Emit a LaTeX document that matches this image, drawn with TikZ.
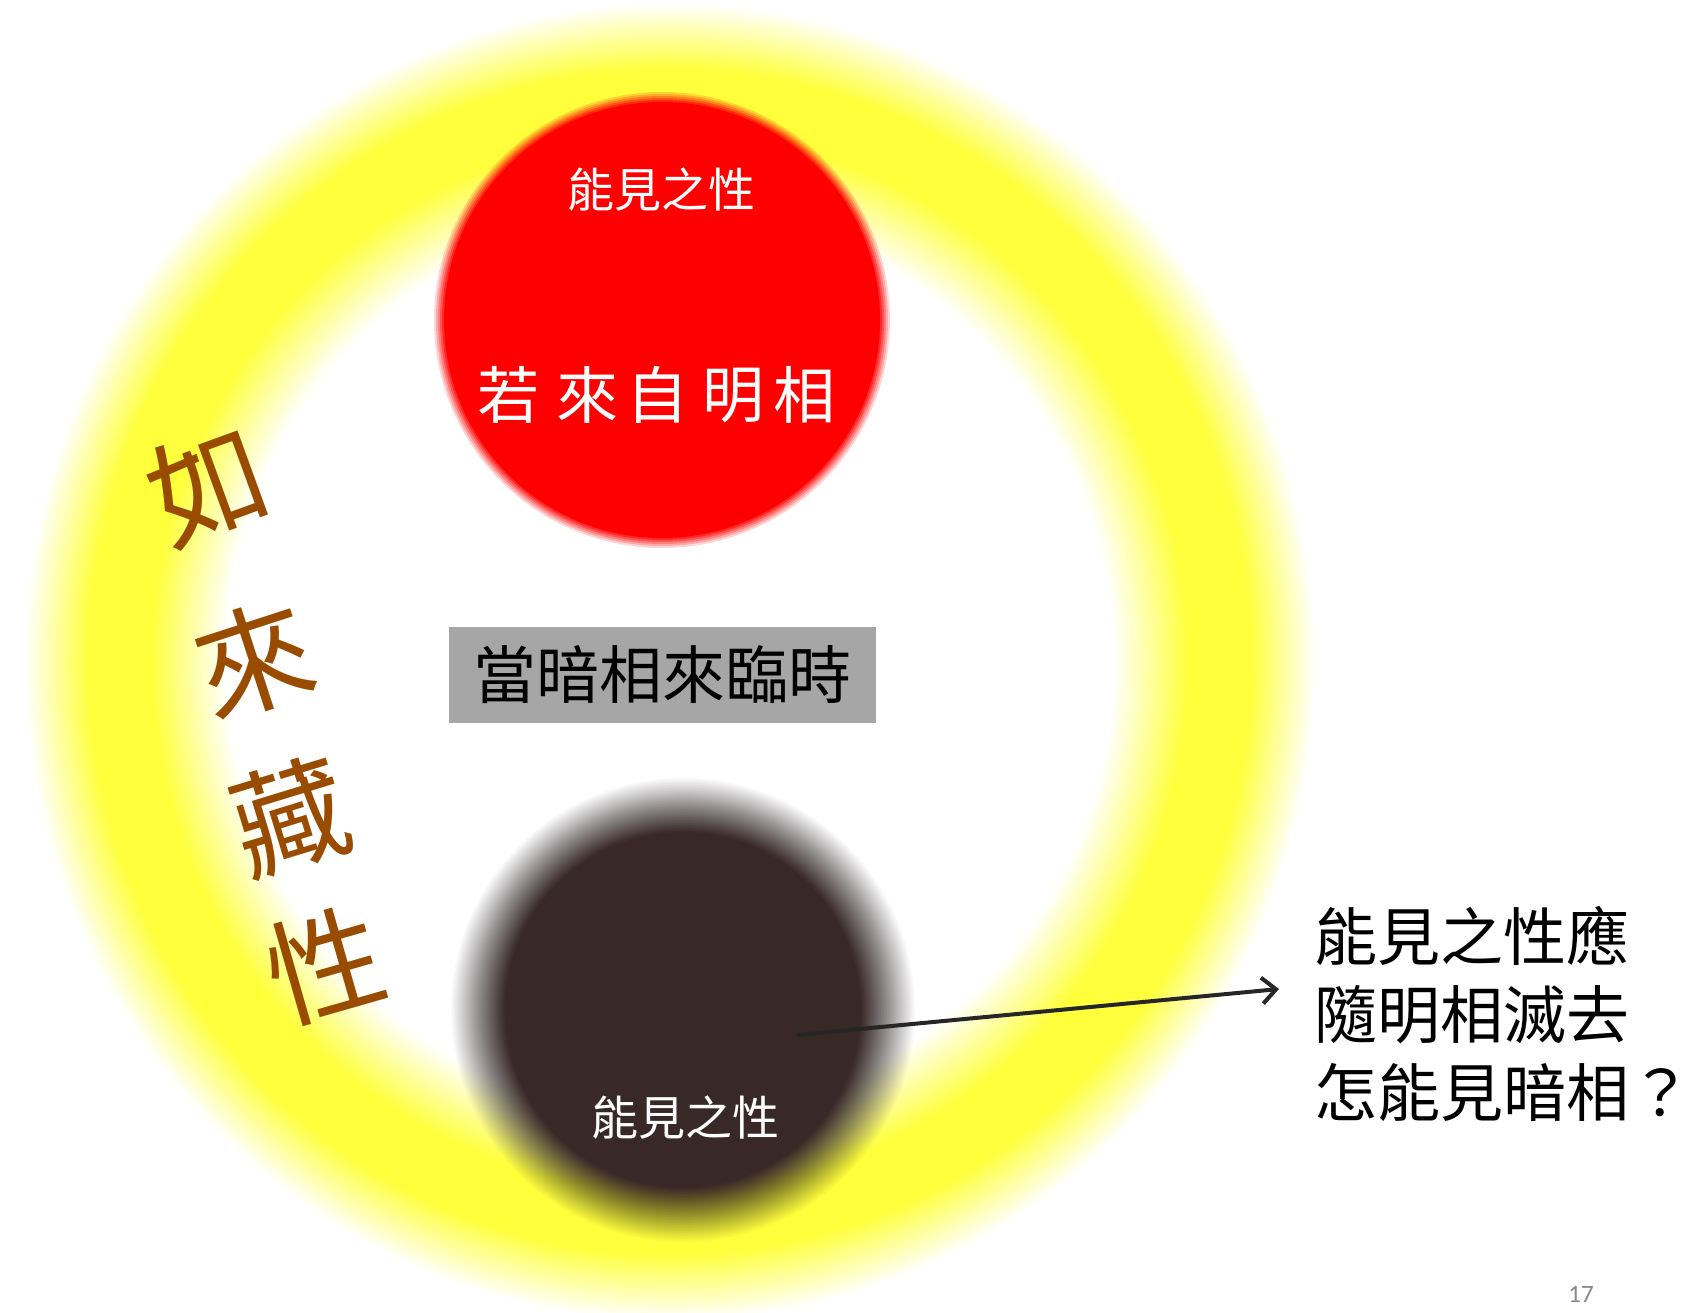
\documentclass[tikz,border=0pt]{standalone}
\usepackage{fontspec}
\newfontfamily\cjk{Noto Sans CJK TC}
\newfontfamily\numfont{Carlito}
\usetikzlibrary{arrows.meta}

\definecolor{ringyellow}{RGB}{255,255,60}
\definecolor{sunred}{RGB}{255,0,0}
\definecolor{darkdisc}{RGB}{56,40,40}
\definecolor{boxgray}{RGB}{166,166,166}
\definecolor{brownink}{RGB}{153,76,0}
\definecolor{arrowgray}{RGB}{38,38,38}
\definecolor{pagegray}{RGB}{137,137,137}

% soft disc: centre x, centre y, radius, half ramp, layers, colour
\newcommand{\softdisc}[6]{%
  \foreach \i in {1,...,#5}{%
    \pgfmathsetmacro\discop{1/(#5+1-\i)}%
    \pgfmathsetmacro\discr{#3+#4-(\i-1)*2*#4/#5}%
    \fill[#6, opacity=\discop] (#1,#2) circle[radius=\discr];
  }%
}

\begin{document}
\begin{tikzpicture}[x=1pt,y=-1pt,
  whitelabel/.style={text=white, inner sep=0pt, font=\cjk\fontsize{47}{56}\selectfont},
  redchar/.style={text=white, inner sep=0pt, font=\cjk\fontsize{62}{70}\selectfont},
  brownchar/.style={text=brownink, inner sep=0pt, font=\cjk\fontsize{116}{120}\selectfont},
  graybox/.style={fill=boxgray, minimum width=427pt, minimum height=96pt, inner sep=0pt,
    text=black, font=\cjk\fontsize{63}{70}\selectfont},
  sidetext/.style={anchor=west, align=left, inner sep=0pt, text=black,
    font=\cjk\fontsize{63}{78}\selectfont},
  arrowline/.style={draw=arrowgray, line width=4pt, -{Straight Barb[length=14pt,width=26pt]}}
]
\useasboundingbox (0,0) rectangle (1700,1312);
\fill[white] (0,0) rectangle (1700,1312);

% yellow glowing ring, painted as concentric ellipses from the outside in
\coordinate (ringcentre) at (670,662);
\foreach \r in {662,659,...,440}{%
  \pgfmathsetmacro\ringt{100*max(0,min(1,(647-\r)/65,(\r-445)/75))}%
  \fill[ringyellow!\ringt!white] (670,662) ellipse [x radius=\r, y radius={\r*1.02}];
}
\fill[white] (670,662) ellipse [x radius=438, y radius=447];

% red disc (light)
\coordinate (redcentre) at (662,320);
\softdisc{662}{320}{222}{6}{6}{sunred}

% dark disc
\coordinate (darkcentre) at (683,1010);
\softdisc{683}{1010}{204}{28}{36}{darkdisc}

% texts in the red disc
\node[whitelabel] (seetop) at (661,190) {能見之性};
\node[redchar] (r1) at (508,395) {若};
\node[redchar] (r2) at (587,395) {來};
\node[redchar] (r3) at (657,395) {自};
\node[redchar] (r4) at (733,395) {明};
\node[redchar] (r5) at (804,395) {相};

% grey box
\node[graybox] (darkcomes) at (662.5,675) {當暗相來臨時};

% text in the dark disc
\node[whitelabel] (seebottom) at (685,1118) {能見之性};

% brown calligraphy along the ring
\node[brownchar, rotate=20] (ru) at (208,485) {如};
\node[brownchar, rotate=18] (lai) at (254,660) {來};
\node[brownchar, rotate=17] (zang) at (290,816) {藏};
\node[brownchar, rotate=16] (xing) at (325,965) {性};

% question text
\node[sidetext] (question) at (1314,1014) {能見之性應\\隨明相滅去\\怎能見暗相？};

% arrow
\coordinate (arrstart) at (797,1035);
\coordinate (arrend) at (1279,989);
\draw[arrowline] (arrstart) -- (arrend);

% page number
\node[text=pagegray, inner sep=0pt, font=\numfont\fontsize{25}{30}\selectfont] (pagenum) at (1581,1294) {17};
\end{tikzpicture}
\end{document}
